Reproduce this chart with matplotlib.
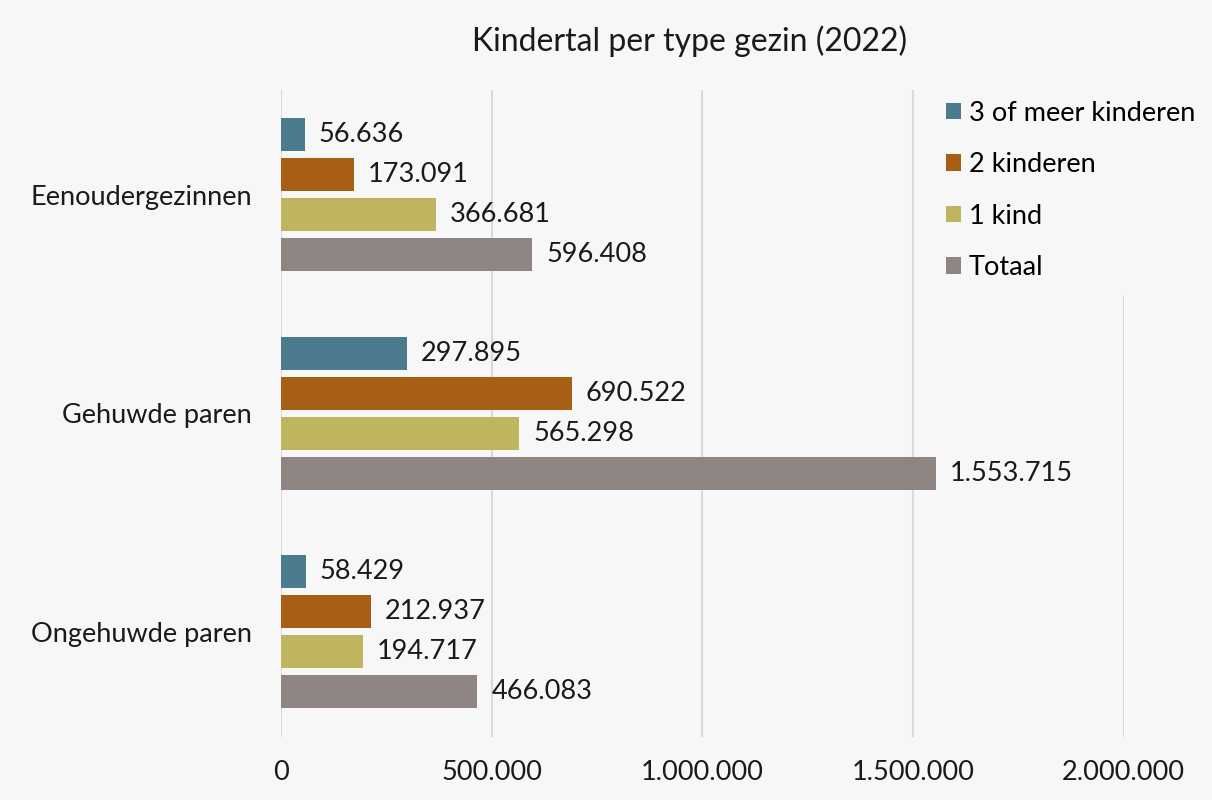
import matplotlib.pyplot as plt
import numpy as np

# Kindertal per type gezin (2022)
categories = ["Eenoudergezinnen", "Gehuwde paren", "Ongehuwde paren"]
series_names = ["3 of meer kinderen", "2 kinderen", "1 kind", "Totaal"]
drie_of_meer = [56636, 297895, 58429]
twee_kinderen = [173091, 690522, 212937]
een_kind = [366681, 565298, 194717]
totaal = [596408, 1553715, 466083]
xticks = [0, 500000, 1000000, 1500000, 2000000]

colors = ["#4a7b8f", "#a65f14", "#bfb55f", "#8e8482"]
bg = "#f7f7f7"

plt.rcParams["font.family"] = ["Lato", "DejaVu Sans"]
fs = 19.5


def nl(v):
    # Nederlandse notatie: punt als duizendtalscheiding
    return f"{v:,.0f}".replace(",", ".")


fig = plt.figure(figsize=(12.12, 8), dpi=100, facecolor=bg)
ax = fig.add_axes([0.232, 0.079, 0.695, 0.809])
ax.set_facecolor(bg)

y = np.arange(len(categories))
step = 0.183
height = 0.152
all_series = [drie_of_meer, twee_kinderen, een_kind, totaal]

for i, (name, vals) in enumerate(zip(series_names, all_series)):
    offs = (i - 1.5) * step
    bars = ax.barh(y + offs, vals, height=height, color=colors[i],
                   label=name, zorder=3)
    ax.bar_label(bars, labels=[nl(v) for v in vals], padding=10,
                 fontsize=fs, color="#1a1a1a")

ax.set_xlim(0, 2000000)
ax.set_ylim(2.48, -0.48)
ax.set_yticks(y)
ax.set_yticklabels(categories, fontsize=fs, color="#1a1a1a")
ax.set_xticks(xticks)
ax.set_xticklabels([nl(v) for v in xticks], fontsize=fs, color="#1a1a1a")
ax.tick_params(length=0, pad=21, axis="y")
ax.tick_params(length=0, pad=17, axis="x")
ax.xaxis.grid(True, color="#d9d9d9", linewidth=1.5, zorder=0)
for s in ax.spines.values():
    s.set_visible(False)

leg = ax.legend(loc="upper left", bbox_to_anchor=(0.757, 1.025), fontsize=fs,
                frameon=True, facecolor=bg, edgecolor=bg, framealpha=1,
                handlelength=0.55, handleheight=0.55, handletextpad=0.3,
                labelspacing=0.98, borderpad=0.5)
leg.set_zorder(5)

fig.text(0.569, 0.948, "Kindertal per type gezin (2022)", ha="center",
         va="center", fontsize=23, color="#1a1a1a")

fig.savefig("out.png", dpi=100, facecolor=bg)
